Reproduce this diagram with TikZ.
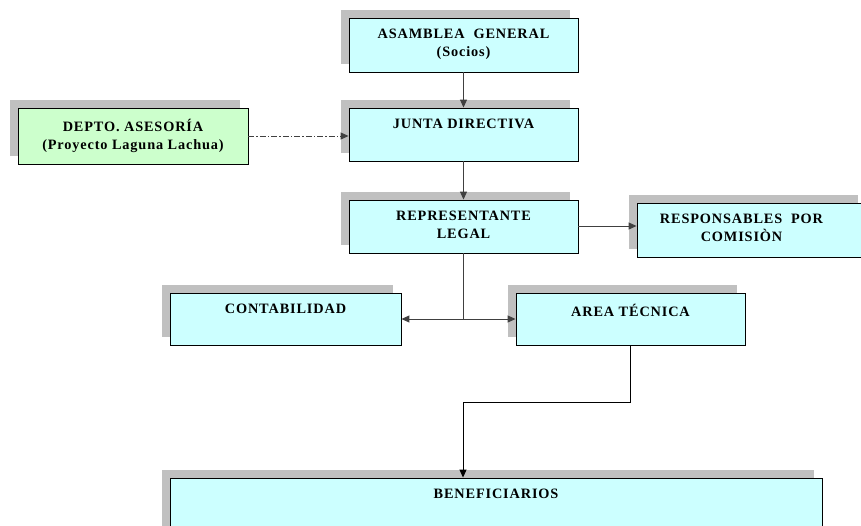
\documentclass[tikz,border=0pt]{standalone}
\usepackage{fontspec}
\setmainfont{Liberation Serif}
\newfontfamily\boxfont{Liberation Serif}[LetterSpace=6]
\usetikzlibrary{arrows.meta,shadows,calc}
\definecolor{cyanbox}{HTML}{CCFFFF}
\definecolor{greenbox}{HTML}{CCFFCC}
\definecolor{shadowgray}{HTML}{C0C0C0}
\definecolor{linegray}{HTML}{404040}
\tikzset{
  orgbox/.style={draw=black, line width=0.9pt, fill=cyanbox, rectangle, inner sep=0pt,
    general shadow={fill=shadowgray, shadow xshift=-8pt, shadow yshift=8pt}},
  boxtext/.style={anchor=north, inner sep=0pt, yshift=-11pt, align=center,
    font=\boxfont\fontsize{14.3}{18}\selectfont\bfseries},
  conn/.style={draw=linegray, line width=1pt, -{Triangle[length=8pt,width=7pt]}},
  plainconn/.style={draw=linegray, line width=1pt},
}
\begin{document}
\begin{tikzpicture}[x=1pt,y=-1pt]
\useasboundingbox (0,0) rectangle (861,525);
\clip (0,0) rectangle (861,525);
\node[orgbox, minimum width=229pt, minimum height=54pt] (asam) at (463.5,45) {};
\node[boxtext] (asamt) at (asam.north) {ASAMBLEA\ \ GENERAL\\(Socios)};
\node[orgbox, minimum width=229pt, minimum height=53pt] (junta) at (463.5,134.5) {};
\node[boxtext] (juntat) at (junta.north) {JUNTA DIRECTIVA};
\node[orgbox, fill=greenbox, minimum width=230pt, minimum height=56pt] (depto) at (133,136) {};
\node[boxtext] (deptot) at (depto.north) {DEPTO. ASESORÍA\\(Proyecto Laguna Lachua)};
\node[orgbox, minimum width=229pt, minimum height=53pt] (rep) at (463.5,226.5) {};
\node[boxtext] (rept) at (rep.north) {REPRESENTANTE\\LEGAL};
\node[orgbox, minimum width=229pt, minimum height=54pt] (resp) at (751.5,230) {};
\node[boxtext, xshift=-10pt] (respt) at (resp.north) {RESPONSABLES\ \ POR\\COMISIÒN};
\node[orgbox, minimum width=231pt, minimum height=52pt] (conta) at (285.5,319) {};
\node[boxtext, yshift=0pt] (contat) at (conta.north) {CONTABILIDAD};
\node[orgbox, minimum width=229pt, minimum height=52pt] (area) at (630.5,319) {};
\node[boxtext, yshift=0pt] (areat) at (area.north) {AREA TÉCNICA};
\node[orgbox, minimum width=652pt, minimum height=60pt] (benef) at (496,508) {};
\node[boxtext, yshift=0pt] (beneft) at (benef.north) {BENEFICIARIOS};
% connectors
\draw[conn] (asam.south) -- (junta.north);
\draw[conn, dash pattern=on 6pt off 2pt on 1.5pt off 2pt] (depto.east) -- (depto.east -| junta.west);
\draw[conn] (junta.south) -- (rep.north);
\draw[conn] (rep.east |- 0,226) -- (resp.west |- 0,226);
\coordinate (j) at (rep.south |- conta.east);
\draw[plainconn] (rep.south) -- (j);
\draw[conn] (j) -- (conta.east);
\draw[conn] (j) -- (area.west);
\coordinate (turn) at (463,402);
\draw[conn, draw=black] (area.south) |- (turn) -- (turn |- benef.north);
\end{tikzpicture}
\end{document}
